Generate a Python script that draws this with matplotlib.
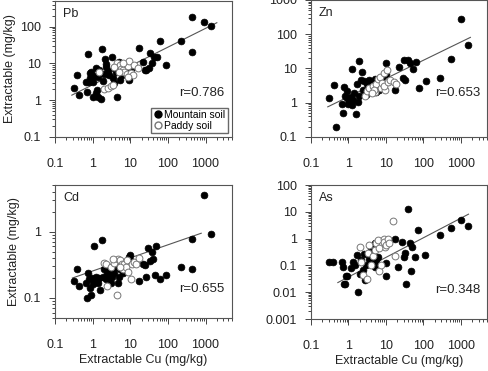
import numpy as np
import matplotlib
matplotlib.use("Agg")
import matplotlib.pyplot as plt
from matplotlib.ticker import FixedLocator, FuncFormatter, LogLocator, NullFormatter
from matplotlib.lines import Line2D

plt.rcParams["font.family"] = ["Liberation Sans", "DejaVu Sans"]

# Extractable Cu (mg/kg) and extractable metal, mountain soil (filled) / paddy soil (open)
pb_cu_m = [0.32, 0.38, 0.43, 0.66, 0.75, 0.72, 0.85, 0.87, 0.81, 0.9, 1.0, 1.1, 1.2, 1.25,
           1.3, 1.35, 1.5, 1.7, 1.8, 1.9, 2.0, 2.2, 2.1, 2.5, 2.8, 3.3, 3.4, 3.8, 4.4, 4.3,
           5.1, 5.3, 5.5, 6.2, 7.0, 8.0, 9.5, 10.5, 17, 22, 24, 27, 31, 34, 39, 44, 50, 60,
           90, 220, 430, 450, 920, 1400, 2.3, 1.05, 1.35, 3.8]
pb_m = [2.2, 4.8, 1.4, 3.2, 18.6, 1.7, 3.9, 5.6, 3.1, 6.0, 1.2, 4.5, 7.3, 1.6,
        1.9, 1.2, 6.5, 1.1, 25, 3.4, 5.3, 8.1, 13, 6.3, 4.8, 15, 3.9, 7.3, 1.2, 6.0,
        11, 3.5, 6.0, 4.8, 8.0, 7.0, 3.6, 6.6, 27, 11, 6.6, 6.6, 7.3, 19, 10, 15, 15, 41,
        9.0, 42, 180, 20, 137, 107, 9.5, 3.2, 4.3, 2.9]
pb_cu_p = [2.0, 2.5, 3.0, 3.4, 4.4, 5.3, 5.8, 6.3, 7.0, 8.0, 8.5, 9.5, 10.5, 11.5, 12.5,
           16, 6.6, 4.9, 1.5, 3.8, 8.5]
pb_p = [2.0, 2.2, 2.4, 2.6, 10, 9.0, 7.0, 6.6, 6.0, 5.3, 8.5, 12, 5.6, 4.8, 9.0,
        7.3, 10, 6.0, 6.0, 8.0, 4.3]

zn_cu_m = [0.31, 0.41, 0.46, 0.69, 0.72, 0.78, 0.82, 0.9, 0.94, 0.98, 1.04, 1.16, 1.23,
           1.28, 1.36, 1.42, 1.58, 1.65, 1.75, 1.86, 1.95, 2.15, 2.3, 2.44, 2.65, 2.9,
           3.2, 3.6, 4.0, 4.2, 4.5, 5.0, 5.4, 6.0, 6.6, 7.6, 7.9, 10, 10, 18, 22, 29, 30,
           32, 40, 45, 52, 62, 76, 115, 280, 550, 1000, 1600]
zn_m = [1.38, 3.2, 0.2, 0.9, 0.5, 2.9, 1.6, 2.2, 1.4, 0.9, 1.2, 1.47, 9.6,
        0.84, 1.23, 1.9, 0.48, 3.5, 1.05, 16.4, 1.6, 4.6, 8.0, 2.3, 4.2, 1.7,
        3.6, 4.5, 4.1, 2.4, 3.3, 5.0, 2.0, 2.9, 2.3, 4.1, 5.7, 14.7, 7.1, 2.4, 11, 5.4, 18,
        4.6, 18, 14, 9.7, 15, 2.6, 4.3, 5.1, 18.7, 270, 50]
zn_cu_p = [2.8, 3.2, 3.6, 4.4, 5.0, 5.5, 6.2, 7.0, 7.6, 7.9, 8.8, 9.5, 9.0, 10.7, 11.3,
           13, 16, 19, 4.8, 4.2]
zn_p = [1.6, 2.2, 2.6, 3.1, 2.0, 3.6, 4.9, 5.6, 2.6, 3.7, 7.4, 2.3, 3.0, 9.0, 4.0,
        4.6, 4.1, 3.6, 2.4, 1.9]

cd_cu_m = [0.32, 0.38, 0.43, 0.65, 0.75, 0.72, 0.8, 0.85, 0.92, 0.98, 1.0, 1.06, 1.1, 1.2,
           1.3, 1.4, 1.5, 1.6, 1.76, 1.9, 2.0, 2.2, 2.4, 2.5, 2.8, 3.0, 3.3, 3.5, 3.8, 4.3,
           4.8, 5.1, 5.5, 6.0, 6.4, 9.5, 9.9, 10.3, 17, 22, 24, 27, 29, 34, 38, 41, 46, 48,
           60, 90, 220, 430, 430, 920, 1400]
cd_m = [0.18, 0.27, 0.15, 0.17, 0.24, 0.1, 0.19, 0.14, 0.11, 0.2, 0.16, 0.18, 0.61, 0.21,
        0.19, 0.17, 0.2, 0.13, 0.75, 0.21, 0.27, 0.19, 0.24, 0.2, 0.25, 0.17, 0.21, 0.3, 0.24, 0.29,
        0.17, 0.21, 0.27, 0.35, 0.24, 0.42, 0.45, 0.36, 0.18, 0.32, 0.31, 0.21, 0.56, 0.36, 0.5, 0.38,
        0.22, 0.6, 0.19, 0.22, 0.29, 0.77, 0.27, 3.5, 0.92]
cd_cu_p = [2.0, 2.2, 2.4, 3.0, 3.8, 4.4, 4.8, 5.3, 6.0, 6.4, 7.0, 7.5, 8.2, 8.9, 10.3,
           11, 12.5, 14, 17, 5.3, 3.4]
cd_p = [0.34, 0.33, 0.15, 0.29, 0.34, 0.11, 0.38, 0.37, 0.32, 0.27, 0.33, 0.29, 0.37, 0.25, 0.19,
        0.32, 0.35, 0.32, 0.4, 0.29, 0.38]

as_cu_m = [0.31, 0.38, 0.69, 0.72, 0.76, 0.8, 0.85, 0.92, 1.15, 1.3, 1.5, 1.65, 1.75, 2.0,
           2.2, 2.4, 2.65, 2.8, 3.0, 3.5, 4.0, 4.2, 4.5, 5.0, 5.0, 5.5, 6.2, 7.0, 10, 10,
           18, 21, 27, 30, 32, 35, 39, 43, 46, 51, 60, 72, 110, 280, 550, 1000, 1600]
as_m = [0.13, 0.14, 0.13, 0.09, 0.021, 0.021, 0.039, 0.039, 0.083, 0.14, 0.1, 0.25, 0.01, 0.049,
        0.16, 0.07, 0.27, 0.029, 0.1, 0.17, 0.44, 0.16, 0.29, 0.67, 0.085, 0.14, 0.2, 0.7, 0.12, 0.04,
        1.0, 0.09, 0.78, 0.2, 0.3, 0.02, 13, 0.7, 0.06, 0.5, 0.2, 2.1, 0.25, 1.37, 2.6, 5.2, 3.0]
as_cu_p = [2.0, 2.2, 2.4, 3.1, 3.3, 3.5, 4.0, 4.5, 5.0, 5.4, 6.0, 6.6, 7.5, 7.9, 8.8,
           9.5, 9.0, 10, 11.3, 15, 18, 12, 6.5]
as_p = [0.5, 0.13, 0.046, 0.03, 0.3, 0.6, 0.1, 0.23, 0.38, 0.67, 0.9, 0.063, 0.1, 0.58, 1.0,
        0.5, 0.78, 0.58, 0.95, 4.5, 0.22, 0.7, 0.44]

# regression lines: slope, intercept (log-log), Cu range
fits = {"Pb": (0.512, 0.42, 0.28, 2000), "Zn": (0.533, 0.173, 0.28, 1800),
        "Cd": (0.197, -0.594, 0.29, 770), "As": (0.732, -1.43, 0.52, 1600)}
r_values = {"Pb": "r=0.786", "Zn": "r=0.653", "Cd": "r=0.655", "As": "r=0.348"}

panels = [
    ("Pb", pb_cu_m, pb_m, pb_cu_p, pb_p, (0.1, 500), [0.1, 1, 10, 100], [0.1127, 0.631, 0.3623, 0.366]),
    ("Zn", zn_cu_m, zn_m, zn_cu_p, zn_p, (0.1, 1000), [0.1, 1, 10, 100, 1000], [0.6373, 0.631, 0.3607, 0.369]),
    ("Cd", cd_cu_m, cd_m, cd_cu_p, cd_p, (0.05, 5), [0.1, 1], [0.1127, 0.143, 0.3623, 0.358]),
    ("As", as_cu_m, as_m, as_cu_p, as_p, (0.001, 100), [0.001, 0.01, 0.1, 1, 10, 100], [0.6373, 0.140, 0.3607, 0.361]),
]

fmt = FuncFormatter(lambda v, p: "%g" % v)
txt = "#222222"
fig = plt.figure(figsize=(4.88, 3.71), dpi=100)

for name, cx_m, y_m, cx_p, y_p, ylim, yticks, pos in panels:
    ax = fig.add_axes(pos)
    ax.set_xscale("log")
    ax.set_yscale("log")
    ax.scatter(cx_m, y_m, s=24, c="black", edgecolors="black", linewidths=0.5, zorder=3)
    ax.scatter(cx_p, y_p, s=24, facecolors="white", edgecolors="#777777", linewidths=0.7, zorder=3)
    k, b, x0, x1 = fits[name]
    xl = np.array([x0, x1])
    ax.plot(xl, 10 ** (b + k * np.log10(xl)), color="#555555", lw=0.8, zorder=2)
    ax.set_xlim(0.1, 5000)
    ax.set_ylim(*ylim)
    ax.xaxis.set_major_locator(FixedLocator([0.1, 1, 10, 100, 1000]))
    ax.xaxis.set_major_formatter(fmt)
    ax.xaxis.set_minor_locator(LogLocator(base=10, subs=np.arange(2, 10), numticks=20))
    ax.xaxis.set_minor_formatter(NullFormatter())
    ax.yaxis.set_major_locator(FixedLocator(yticks))
    ax.yaxis.set_major_formatter(fmt)
    ax.yaxis.set_minor_locator(LogLocator(base=10, subs=np.arange(2, 10), numticks=20))
    ax.yaxis.set_minor_formatter(NullFormatter())
    ax.tick_params(which="both", direction="out", color="#444444", width=0.7,
                   labelsize=9, labelcolor=txt)
    ax.tick_params(axis="x", which="major", length=4, pad=11)
    ax.tick_params(axis="x", which="minor", length=2.5)
    ax.tick_params(axis="y", which="major", length=4, pad=6)
    ax.tick_params(axis="y", which="minor", length=2.5)
    for sp in ax.spines.values():
        sp.set_color("#555555")
        sp.set_linewidth(0.8)
    ax.text(0.045, 0.95, name, transform=ax.transAxes, ha="left", va="top", fontsize=9, color=txt)
    r_y = 0.32 if name in ("Pb", "Zn") else 0.22
    ax.text(0.96, r_y, r_values[name], transform=ax.transAxes, ha="right", va="center",
            fontsize=9.5, color=txt)
    if name in ("Pb", "Cd"):
        ax.set_ylabel("Extractable (mg/kg)", fontsize=9, color=txt, labelpad=3)
    if name in ("Cd", "As"):
        ax.set_xlabel("Extractable Cu (mg/kg)", fontsize=9, color=txt, labelpad=2)
    if name == "Pb":
        handles = [Line2D([], [], marker="o", ls="", color="black", markersize=5),
                   Line2D([], [], marker="o", ls="", markerfacecolor="white",
                          markeredgecolor="#777777", markersize=5)]
        ax.legend(handles, ["Mountain soil", "Paddy soil"], loc="lower right",
                  fontsize=7.5, frameon=True, fancybox=False, edgecolor="#444444",
                  borderpad=0.2, handletextpad=0.1, labelspacing=0.1,
                  handlelength=1.0, borderaxespad=0.4)

fig.savefig("out.png", dpi=100)
